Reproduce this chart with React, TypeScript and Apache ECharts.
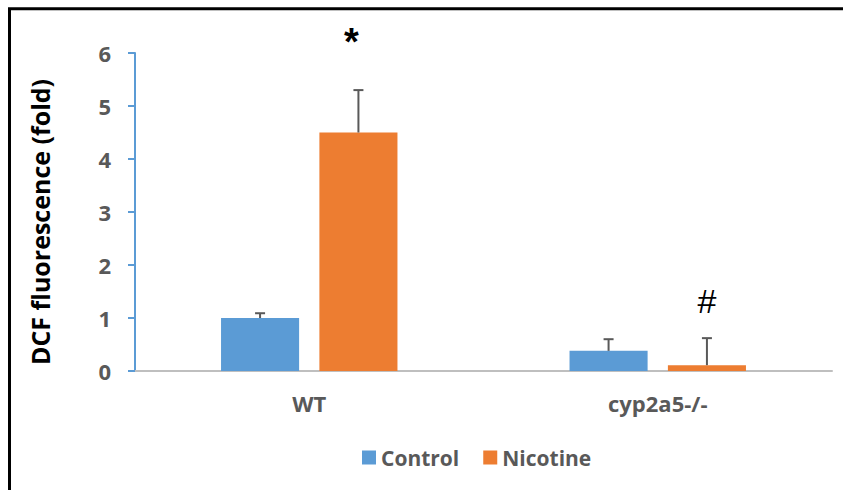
import React, { useEffect, useRef } from "react";
import * as echarts from "echarts";

const categories = ["WT", "cyp2a5-/-"];
const seriesNames = ["Control", "Nicotine"];
const controlValues = [1.0, 0.38];
const nicotineValues = [4.5, 0.11];
const controlErrors = [0.09, 0.22];
const nicotineErrors = [0.8, 0.51];
// annotations: [categoryIndex, seriesIndex, yValue, text]
const annotationCats = [0, 1];
const annotationSeries = [1, 1];
const annotationValues = [6.2, 1.32];
const annotationTexts = ["*", "#"];
const yTicks = { min: 0, max: 6, interval: 1 };

const BLUE = "#5B9BD5";
const ORANGE = "#ED7D31";
const GRAY_TEXT = "#595959";
const BAR_W = 0.224;
const BAR_GAP = 0.26;
const OFFSET_FRAC = (BAR_W + BAR_W * BAR_GAP) / 2;

export default function App() {
  const ref = useRef<HTMLDivElement>(null);
  useEffect(() => {
    if (!ref.current) return;
    const chart = echarts.init(ref.current, undefined, { renderer: "svg" });
    const errData: number[][] = [];
    categories.forEach((_, i) => {
      errData.push([i, 0, controlValues[i], controlErrors[i]]);
      errData.push([i, 1, nicotineValues[i], nicotineErrors[i]]);
    });
    const annData = annotationCats.map((c, i) => [c, annotationSeries[i], annotationValues[i]]);
    const font = "'Open Sans', sans-serif";
    chart.setOption({
      animation: false,
      backgroundColor: "#ffffff",
      grid: { left: 135, right: 11, top: 53, bottom: 119, containLabel: false },
      legend: {
        data: seriesNames,
        top: 442,
        left: 357,
        icon: "rect",
        itemWidth: 14,
        itemHeight: 14,
        itemGap: 24,
        textStyle: { fontFamily: font, fontWeight: "bold", fontSize: 21, color: GRAY_TEXT },
      },
      xAxis: {
        type: "category",
        data: categories,
        axisLine: { show: true, lineStyle: { color: "#BFBFBF", width: 2 } },
        axisTick: { show: false },
        axisLabel: { fontFamily: font, fontWeight: "bold", fontSize: 22, color: GRAY_TEXT, margin: 21 },
        splitLine: { show: false },
      },
      yAxis: {
        type: "value",
        min: yTicks.min,
        max: yTicks.max,
        interval: yTicks.interval,
        axisLine: { show: true, lineStyle: { color: BLUE, width: 2 } },
        axisTick: { show: true, inside: false, length: 7, lineStyle: { color: BLUE, width: 2 } },
        axisLabel: { fontFamily: font, fontWeight: "bold", fontSize: 22, color: GRAY_TEXT, margin: 24 },
        splitLine: { show: false },
      },
      graphic: [
        {
          type: "polyline",
          shape: { points: [[9.5, 490], [9.5, 8.8], [843, 8.8]] },
          style: { stroke: "#000", lineWidth: 3, fill: "none" },
          silent: true,
        },
        {
          type: "text",
          x: 40,
          y: 222,
          rotation: Math.PI / 2,
          style: {
            text: "DCF fluorescence (fold)",
            font: "bold 25px 'Open Sans', sans-serif",
            fill: "#000",
            align: "center",
            verticalAlign: "middle",
          },
        },
      ],
      series: [
        {
          name: "Control",
          type: "bar",
          data: controlValues,
          barWidth: (BAR_W * 100) + "%",
          barGap: (BAR_GAP * 100) + "%",
          itemStyle: { color: BLUE },
        },
        {
          name: "Nicotine",
          type: "bar",
          data: nicotineValues,
          barWidth: (BAR_W * 100) + "%",
          barGap: (BAR_GAP * 100) + "%",
          itemStyle: { color: ORANGE },
        },
        {
          type: "custom",
          z: 10,
          silent: true,
          data: errData,
          renderItem: (params: any, api: any) => {
            const cat = api.value(0);
            const s = api.value(1);
            const v = api.value(2);
            const e = api.value(3);
            const band = api.size([1, 0])[0];
            const off = (s === 0 ? -1 : 1) * band * OFFSET_FRAC;
            const base = api.coord([cat, v]);
            const top = api.coord([cat, v + e]);
            const x = base[0] + off;
            const st = { stroke: "#595959", lineWidth: 2 };
            return {
              type: "group",
              children: [
                { type: "line", shape: { x1: x, y1: base[1], x2: x, y2: top[1] }, style: st },
                { type: "line", shape: { x1: x - 5, y1: top[1], x2: x + 5, y2: top[1] }, style: st },
              ],
            };
          },
        },
        {
          type: "custom",
          z: 10,
          silent: true,
          data: annData,
          renderItem: (params: any, api: any) => {
            const cat = api.value(0);
            const s = api.value(1);
            const v = api.value(2);
            const band = api.size([1, 0])[0];
            const off = (s === 0 ? -1 : 1) * band * OFFSET_FRAC;
            const p = api.coord([cat, v]);
            const txt = annotationTexts[params.dataIndex];
            const isStar = txt === "*";
            return {
              type: "text",
              x: p[0] + off - (isStar ? 7 : 0),
              y: p[1],
              style: {
                text: txt,
                font: (isStar ? "bold 38px " : "34px ") + "'Liberation Sans', sans-serif",
                fill: "#000",
                align: "center",
                verticalAlign: "middle",
              },
            };
          },
        },
      ],
    });
    return () => chart.dispose();
  }, []);
  return (
    <div
      ref={ref}
      style={{ position: "fixed", left: 0, top: 0, width: 843, height: 490, background: "#fff" }}
    />
  );
}
